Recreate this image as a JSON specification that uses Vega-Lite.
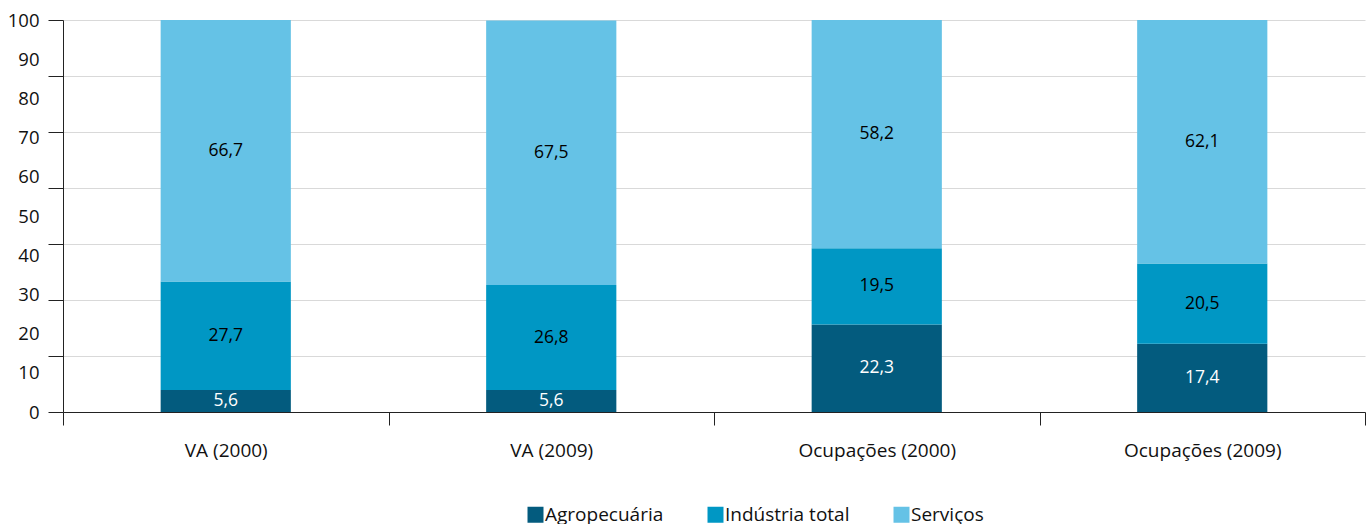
{
  "$schema": "https://vega.github.io/schema/vega-lite/v6.json",
  "width": 1302,
  "height": 392,
  "autosize": "none",
  "padding": {"left": 63, "top": 20, "right": 5, "bottom": 112},
  "background": "white",
  "config": {
    "font": "Open Sans",
    "view": {"stroke": null},
    "locale": {"number": {"decimal": ",", "thousands": ".", "grouping": [3], "currency": ["R$", ""]}}
  },
  "data": {
    "values": [
      {"categoria": "VA (2000)", "setor": "Agropecuária", "valor": 5.6},
      {"categoria": "VA (2000)", "setor": "Indústria total", "valor": 27.7},
      {"categoria": "VA (2000)", "setor": "Serviços", "valor": 66.7},
      {"categoria": "VA (2009)", "setor": "Agropecuária", "valor": 5.6},
      {"categoria": "VA (2009)", "setor": "Indústria total", "valor": 26.8},
      {"categoria": "VA (2009)", "setor": "Serviços", "valor": 67.5},
      {"categoria": "Ocupações (2000)", "setor": "Agropecuária", "valor": 22.3},
      {"categoria": "Ocupações (2000)", "setor": "Indústria total", "valor": 19.5},
      {"categoria": "Ocupações (2000)", "setor": "Serviços", "valor": 58.2},
      {"categoria": "Ocupações (2009)", "setor": "Agropecuária", "valor": 17.4},
      {"categoria": "Ocupações (2009)", "setor": "Indústria total", "valor": 20.5},
      {"categoria": "Ocupações (2009)", "setor": "Serviços", "valor": 62.1}
    ]
  },
  "encoding": {
    "x": {
      "field": "categoria",
      "type": "nominal",
      "sort": ["VA (2000)", "VA (2009)", "Ocupações (2000)", "Ocupações (2009)"],
      "scale": {"paddingInner": 0, "paddingOuter": 0},
      "axis": {
        "title": null,
        "labelAngle": 0,
        "tickBand": "extent",
        "tickSize": 13,
        "tickColor": "#222222",
        "domainColor": "#222222",
        "labelFontSize": 19,
        "labelColor": "#111111",
        "labelPadding": 16,
        "grid": false
      }
    },
    "y": {
      "field": "valor",
      "type": "quantitative",
      "stack": "zero",
      "scale": {"domain": [0, 100], "nice": false},
      "axis": {
        "title": null,
        "values": [0, 14.2857, 28.5714, 42.8571, 57.1429, 71.4286, 85.7143, 100, 10, 20, 30, 40, 50, 60, 70, 80, 90],
        "labelExpr": "datum.value % 10 === 0 ? datum.label : ''",
        "labelOverlap": false,
        "labelFontSize": 18.5,
        "labelColor": "#111111",
        "labelPadding": 9,
        "tickSize": 15,
        "tickColor": {"condition": {"test": "datum.value % 10 === 0 && datum.value > 0 && datum.value < 100", "value": "transparent"}, "value": "#222222"},
        "grid": true,
        "gridColor": {"condition": {"test": "datum.value % 10 === 0 && datum.value > 0 && datum.value < 100", "value": "transparent"}, "value": "#d9d9d9"},
        "domainColor": "#222222"
      }
    },
    "order": {"field": "setor", "sort": "ascending"}
  },
  "layer": [
    {
      "mark": {"type": "bar", "width": {"band": 0.4}},
      "encoding": {
        "color": {
          "field": "setor",
          "type": "nominal",
          "scale": {"domain": ["Agropecuária", "Indústria total", "Serviços"], "range": ["#035b7e", "#0097c4", "#65c2e6"]},
          "legend": {
            "title": null,
            "orient": "none",
            "direction": "horizontal",
            "legendX": 463,
            "legendY": 485,
            "symbolType": "square",
            "symbolSize": 256,
            "symbolStrokeWidth": 0,
            "symbolOpacity": 1,
            "labelFontSize": 19,
            "labelColor": "#111111",
            "labelOffset": 0,
            "columnPadding": 42
          }
        }
      }
    },
    {
      "mark": {"type": "text", "fontSize": 17.5},
      "encoding": {
        "y": {"field": "valor", "type": "quantitative", "stack": "zero", "bandPosition": 0.5},
        "text": {"field": "valor", "type": "quantitative", "format": ".1f"},
        "color": {"condition": {"test": "datum.setor === 'Agropecuária'", "value": "white"}, "value": "black"}
      }
    }
  ]
}
